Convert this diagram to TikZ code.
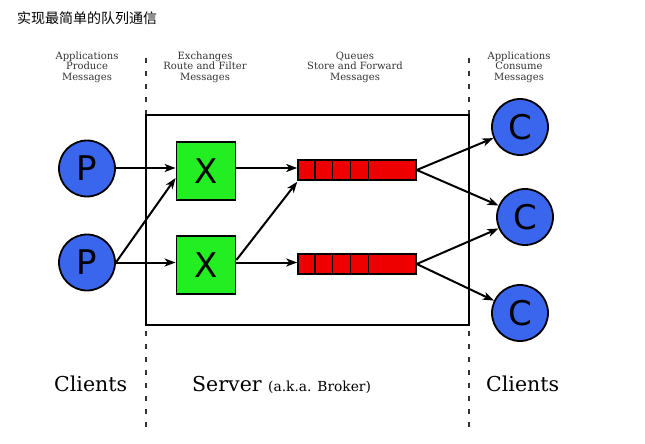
\documentclass[tikz,border=0pt]{standalone}
\usepackage{fontspec}
\setmainfont{DejaVu Serif}
\newfontfamily\cjk{Noto Sans CJK SC}
\newfontfamily\letterfont{DejaVu Sans}
\usetikzlibrary{arrows.meta}
\definecolor{cblue}{HTML}{3A66EE}
\definecolor{xgreen}{HTML}{22EE22}
\definecolor{qred}{HTML}{EE0000}
\definecolor{hdr}{HTML}{333333}
\tikzset{
  client/.style={circle, draw=black, line width=1.8pt, fill=cblue, minimum size=56pt, inner sep=0pt, font=\letterfont\fontsize{34}{34}\selectfont},
  exch/.style={rectangle, draw=black, line width=1.8pt, fill=xgreen, minimum width=59pt, minimum height=58pt, inner sep=0pt, font=\letterfont\fontsize{34}{34}\selectfont},
  qbox/.style={rectangle, draw=black, line width=1.5pt, fill=qred, minimum width=118pt, minimum height=20pt, inner sep=0pt},
  flow/.style={line width=2pt, -{Stealth[length=11pt,width=8pt,inset=3pt]}},
  hdrtext/.style={align=center, text=hdr, font=\fontsize{10}{10.6}\selectfont},
  bottomtext/.style={anchor=base west, font=\fontsize{20.5}{20.5}\selectfont},
  divider/.style={line width=1.3pt, dash pattern=on 5pt off 8pt, draw=hdr},
}
\begin{document}
\begin{tikzpicture}[x=1pt,y=-1pt]
\useasboundingbox (0,0) rectangle (645,444);
% title
\node[anchor=west, inner sep=0pt, font=\cjk\fontsize{14}{14}\selectfont] (title) at (17,18) {实现最简单的队列通信};
% headers
\node[hdrtext] (h1) at (87,67) {Applications\\Produce\\Messages};
\node[hdrtext] (h2) at (205,67) {Exchanges\\Route and Filter\\Messages};
\node[hdrtext] (h3) at (355,67) {Queues\\Store and Forward\\Messages};
\node[hdrtext] (h4) at (519,67) {Applications\\Consume\\Messages};
% dividers
\coordinate (d1t) at (146,58); \coordinate (d1b) at (146,434);
\coordinate (d2t) at (469,58); \coordinate (d2b) at (469,434);
\draw[divider] (d1t) -- (d1b);
\draw[divider] (d2t) -- (d2b);
% server box
\draw[line width=1.8pt, fill=white] (146,115) rectangle (469,325);
% producers
\node[client] (p1) at (87,168.5) {P};
\node[client] (p2) at (87,262.5) {P};
% exchanges
\node[exch] (x1) at (206,171) {X};
\node[exch] (x2) at (206,265) {X};
% queues
\node[qbox] (q1) at (357,170) {};
\node[qbox] (q2) at (357,264) {};
\foreach \q in {q1,q2}{
  \foreach \dx in {17.7,35.2,53.2,71.2}{
    \draw[line width=1.5pt] ([xshift=\dx pt]\q.north west) -- ([xshift=\dx pt]\q.south west);
  }
}
% consumers
\node[client] (c1) at (520,127) {C};
\node[client] (c2) at (525,217) {C};
\node[client] (c3) at (520,313) {C};
% arrows
\draw[flow] (p1.east |- 0,168) -- (x1.west |- 0,168);
\draw[flow] (p2.east) -- (x2.west |- 0,262.5);
\draw[flow] (p2.east) -- ([yshift=-7pt]x1.west);
\draw[flow] (x1.east |- 0,168) -- (q1.west |- 0,168);
\draw[flow] (x2.east |- 0,262.5) -- (q2.west |- 0,262.5);
\draw[flow] ([yshift=5pt]x2.east) -- ([yshift=-1pt]q1.south west);
\draw[flow] (q1.east) -- (c1);
\draw[flow] (q1.east) -- (c2);
\draw[flow] (q2.east) -- (c2);
\draw[flow] (q2.east) -- (c3);
% bottom labels
\node[bottomtext, inner sep=0pt] (cl1) at (54,391) {Clients};
\node[bottomtext, inner sep=0pt] (srv) at (192,391) {Server {\fontsize{13.8}{13.8}\selectfont(a.k.a. Broker)}};
\node[bottomtext, inner sep=0pt] (cl2) at (486,391) {Clients};
\end{tikzpicture}
\end{document}
